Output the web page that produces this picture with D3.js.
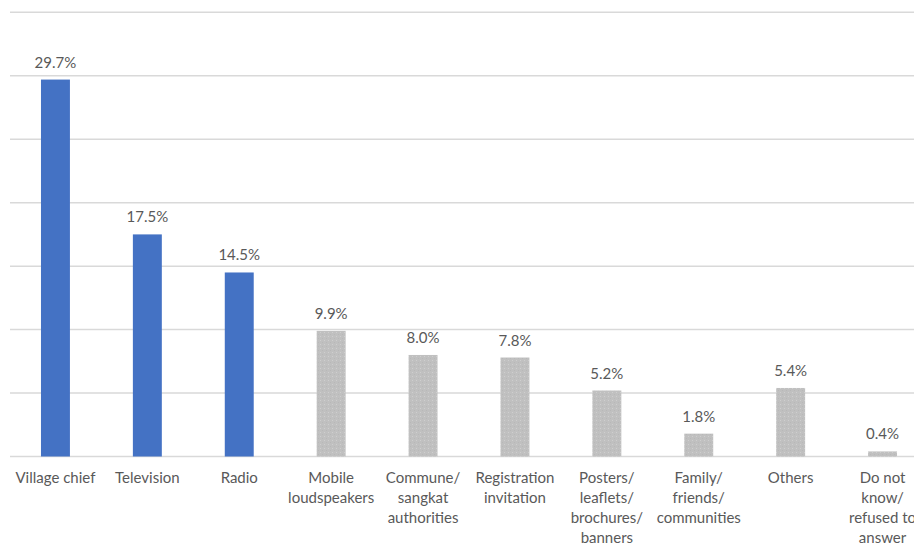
<!DOCTYPE html>
<html>
<head>
<meta charset="utf-8">
<script src="https://cdn.jsdelivr.net/npm/d3@7"></script>
<style>
  html, body { margin: 0; padding: 0; background: #fff; }
  svg { display: block; }
</style>
</head>
<body>
<svg id="chart" width="914" height="545"></svg>
<script>
// Sources of information (share of respondents, %)
const categories = [
  "Village chief", "Television", "Radio", "Mobile loudspeakers",
  "Commune/ sangkat authorities", "Registration invitation",
  "Posters/ leaflets/ brochures/ banners", "Family/ friends/ communities",
  "Others", "Do not know/ refused to answer"
];
// Multi-line label text for the category axis
const categoryLines = [
  ["Village chief"], ["Television"], ["Radio"], ["Mobile", "loudspeakers"],
  ["Commune/", "sangkat", "authorities"], ["Registration", "invitation"],
  ["Posters/", "leaflets/", "brochures/", "banners"], ["Family/", "friends/", "communities"],
  ["Others"], ["Do not", "know/", "refused to", "answer"]
];
const values = [29.7, 17.5, 14.5, 9.9, 8.0, 7.8, 5.2, 1.8, 5.4, 0.4];
const highlighted = [true, true, true, false, false, false, false, false, false, false];
const yTicks = [0, 5, 10, 15, 20, 25, 30, 35];

(function () {
  const svg = d3.select("#chart");
  const W = 914;
  const plot = { left: 9.5, right: 928.5, top: 12.3, bottom: 456.5 };
  const font = "Lato, 'Open Sans', sans-serif";
  const fontSize = 15;

  const x = d3.scaleBand().domain(categories).range([plot.left, plot.right])
    .paddingInner(0.685).paddingOuter(0.3425);
  const y = d3.scaleLinear().domain([0, 35]).range([plot.bottom, plot.top]);

  // Dotted texture for the grey bars
  const defs = svg.append("defs");
  const pat = defs.append("pattern").attr("id", "greyDots")
    .attr("patternUnits", "userSpaceOnUse").attr("width", 4).attr("height", 4);
  pat.append("rect").attr("width", 4).attr("height", 4).attr("fill", "#c0c0c0");
  pat.append("rect").attr("x", 0).attr("y", 0).attr("width", 1).attr("height", 1).attr("fill", "#cfcfcf");
  pat.append("rect").attr("x", 2).attr("y", 2).attr("width", 1).attr("height", 1).attr("fill", "#b8b8b8");

  // Horizontal gridlines
  svg.append("g").selectAll("line").data(yTicks).join("line")
    .attr("x1", 10).attr("x2", W)
    .attr("y1", d => y(d)).attr("y2", d => y(d))
    .attr("stroke", "#d9d9d9").attr("stroke-width", 1.5);

  // Bars
  svg.append("g").selectAll("rect").data(values).join("rect")
    .attr("x", (d, i) => x(categories[i]))
    .attr("width", x.bandwidth())
    .attr("y", d => y(d))
    .attr("height", d => y(0) - y(d))
    .attr("fill", (d, i) => highlighted[i] ? "#4472c4" : "url(#greyDots)");

  // Value labels
  svg.append("g").selectAll("text").data(values).join("text")
    .attr("x", (d, i) => x(categories[i]) + x.bandwidth() / 2)
    .attr("y", d => y(d) - 12)
    .attr("text-anchor", "middle")
    .attr("font-family", font)
    .attr("font-size", fontSize)
    .attr("fill", "#595959")
    .text(d => d.toFixed(1) + "%");

  // Category labels
  const lab = svg.append("g").selectAll("text").data(categories).join("text")
    .attr("text-anchor", "middle")
    .attr("font-family", font)
    .attr("font-size", fontSize)
    .attr("fill", "#595959")
    .attr("transform", d => `translate(${x(d) + x.bandwidth() / 2},483)`);
  lab.selectAll("tspan").data((d, i) => categoryLines[i]).join("tspan")
    .attr("x", 0).attr("y", (d, j) => j * 20)
    .text(d => d);
})();
</script>
</body>
</html>
